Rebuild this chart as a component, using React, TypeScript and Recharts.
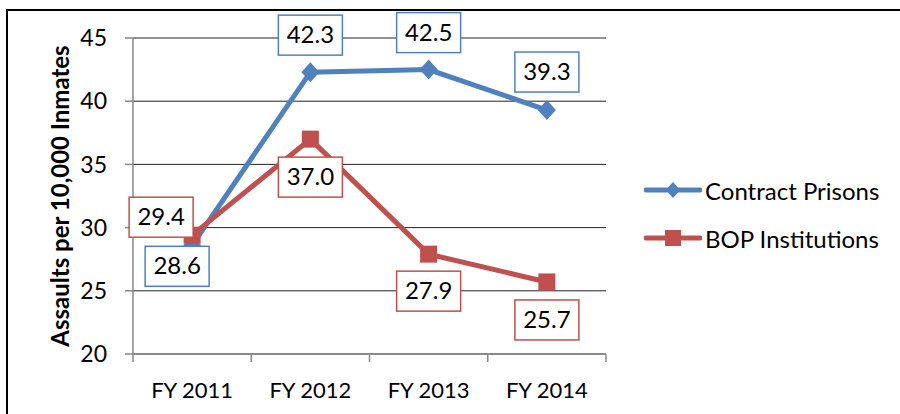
import React from 'react';
import { LineChart, Line, XAxis, YAxis, CartesianGrid, Legend, LabelList, Label } from 'recharts';

const years = ['FY 2011', 'FY 2012', 'FY 2013', 'FY 2014'];
const contractPrisons = [28.6, 42.3, 42.5, 39.3];
const bopInstitutions = [29.4, 37.0, 27.9, 25.7];
const yTicks = [20, 25, 30, 35, 40, 45];

const BLUE = '#4F81BD';
const RED = '#C0504D';
const AXIS = '#888';
const FONT = 'Lato, "Open Sans", sans-serif';
const TICK_SIZE = 8;
const TICK_MARGIN = 20;

// where each boxed label sits relative to its point
const contractOffsets = [[-15, 21], [0, -37], [0, -37], [0, -38]];
const bopOffsets = [[-31, -18], [0, 38], [0, 37], [0, 38]];

const data = years.map((year, i) => ({
  year,
  contract: contractPrisons[i],
  bop: bopInstitutions[i],
}));

const Diamond = ({ cx, cy, fill, r = 10 }: any) => (
  <path d={`M${cx},${cy - r} L${cx + r * 0.9},${cy} L${cx},${cy + r} L${cx - r * 0.9},${cy} Z`} fill={fill} />
);

const Square = ({ cx, cy, fill, s = 17 }: any) => (
  <rect x={cx - s / 2} y={cy - s / 2} width={s} height={s} fill={fill} />
);

// category label plus Excel-style tick marks between categories
const XTick = (props: any) => {
  const { x, y, payload, index, visibleTicksCount } = props;
  const half = payload.offset || 0;
  const axisY = y - TICK_SIZE - TICK_MARGIN;
  return (
    <g>
      <line x1={x - half} x2={x - half} y1={axisY} y2={axisY + TICK_SIZE} stroke={AXIS} strokeWidth={1.5} />
      {index === visibleTicksCount - 1 && (
        <line x1={x + half} x2={x + half} y1={axisY} y2={axisY + TICK_SIZE} stroke={AXIS} strokeWidth={1.5} />
      )}
      <text x={x} y={y} dy="0.71em" textAnchor="middle" fontSize={22} fontFamily={FONT} fill="#000">
        {payload.value}
      </text>
    </g>
  );
};

const boxLabel = (color: string, offsets: number[][]) => (props: any) => {
  const { x, y, value, index } = props;
  const [dx, dy] = offsets[index];
  const cx = x + dx;
  const cy = y + dy;
  return (
    <g>
      <rect x={cx - 32} y={cy - 20} width={64} height={40} fill="#fff" stroke={color} strokeWidth={1.5} />
      <text x={cx} y={cy + 8} textAnchor="middle" fontSize={24} fontFamily={FONT} fill="#000">
        {Number(value).toFixed(1)}
      </text>
    </g>
  );
};

const LegendContent = () => {
  const items = [
    { name: 'Contract Prisons', color: BLUE, shape: 'diamond' },
    { name: 'BOP Institutions', color: RED, shape: 'square' },
  ];
  return (
    <div>
      {items.map((it) => (
        <div key={it.name} style={{ display: 'flex', alignItems: 'center', height: 48 }}>
          <svg width={58} height={24}>
            <line x1={2} y1={12} x2={56} y2={12} stroke={it.color} strokeWidth={5} strokeLinecap="round" />
            {it.shape === 'diamond' ? <Diamond cx={29} cy={12} fill={it.color} r={8} /> : <Square cx={29} cy={12} fill={it.color} s={16} />}
          </svg>
          <span style={{ fontFamily: FONT, fontSize: 24, color: '#000', marginLeft: 3 }}>{it.name}</span>
        </div>
      ))}
    </div>
  );
};

export default function App() {
  return (
    <div style={{ position: 'absolute', left: 0, top: 0, width: 900, height: 414, overflow: 'hidden', background: '#fff' }}>
      <div style={{ position: 'absolute', left: 6, top: 9, width: 920, height: 430, borderLeft: '2px solid #000', borderTop: '2px solid #000' }} />
      <LineChart width={900} height={414} data={data} margin={{ top: 38, right: 294, bottom: 10, left: 43 }}>
        <CartesianGrid horizontal vertical={false} stroke="#222" strokeWidth={1} />
        <XAxis
          dataKey="year"
          scale="band"
          height={50}
          axisLine={{ stroke: AXIS, strokeWidth: 1.5 }}
          tickLine={false}
          tickSize={TICK_SIZE}
          tickMargin={TICK_MARGIN}
          interval={0}
          tick={<XTick />}
        />
        <YAxis
          domain={[20, 45]}
          ticks={yTicks}
          width={90}
          axisLine={{ stroke: AXIS, strokeWidth: 1.5 }}
          tickLine={{ stroke: AXIS, strokeWidth: 1.5 }}
          tickSize={8}
          tickMargin={18}
          tick={{ fontSize: 23, fontFamily: FONT, fill: '#000' }}
        >
          <Label
            value="Assaults per 10,000 Inmates"
            angle={-90}
            position="insideLeft"
            offset={17}
            style={{ textAnchor: 'middle', fontSize: 24, fontWeight: 'bold', fontFamily: FONT, fill: '#000' }}
          />
        </YAxis>
        <Legend
          layout="vertical"
          align="center"
          verticalAlign="middle"
          wrapperStyle={{ left: 644, top: 166, width: 250 }}
          content={<LegendContent />}
        />
        <Line
          dataKey="contract"
          name="Contract Prisons"
          stroke={BLUE}
          strokeWidth={5}
          isAnimationActive={false}
          dot={(p: any) => <Diamond key={`d-${p.index}`} cx={p.cx} cy={p.cy} fill={BLUE} />}
          activeDot={false}
        >
          <LabelList dataKey="contract" content={boxLabel(BLUE, contractOffsets)} />
        </Line>
        <Line
          dataKey="bop"
          name="BOP Institutions"
          stroke={RED}
          strokeWidth={5}
          isAnimationActive={false}
          dot={(p: any) => <Square key={`s-${p.index}`} cx={p.cx} cy={p.cy} fill={RED} />}
          activeDot={false}
        >
          <LabelList dataKey="bop" content={boxLabel(RED, bopOffsets)} />
        </Line>
      </LineChart>
    </div>
  );
}
